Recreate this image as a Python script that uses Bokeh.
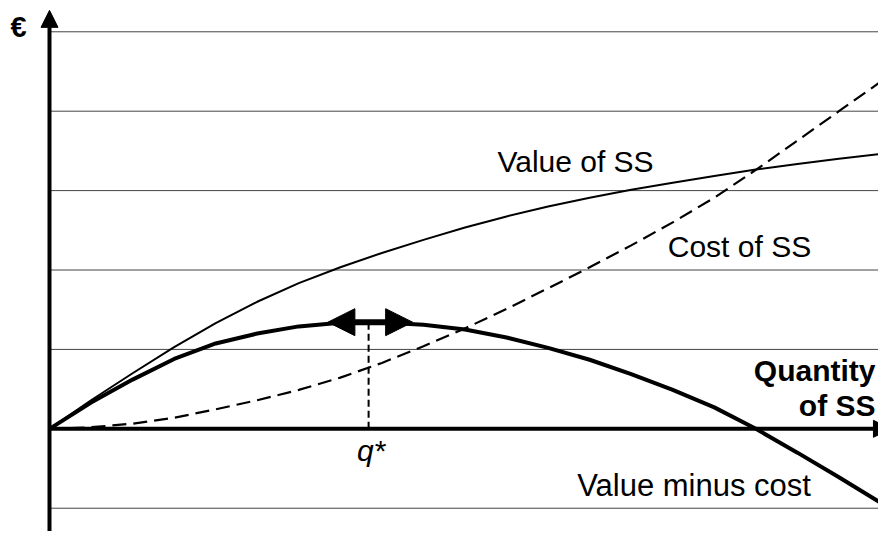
from bokeh.plotting import figure
from bokeh.models import Range1d, Arrow, NormalHead, ColumnDataSource
from bokeh.core.properties import value
from bokeh.embed import file_html
from bokeh.resources import INLINE

# ---- data ----
quantity  = [0, 0.5, 1, 1.5, 2, 2.5, 3, 3.5, 4, 4.5, 5, 5.5, 6, 6.5, 7, 7.5, 8, 8.5, 9, 9.5, 10]
value_ss  = [0, 0.36, 0.70, 1.03, 1.33, 1.60, 1.835, 2.035, 2.215, 2.38, 2.535, 2.675,
             2.80, 2.91, 3.01, 3.10, 3.185, 3.265, 3.335, 3.40, 3.46]
cost_ss   = [0, 0.02, 0.065, 0.14, 0.245, 0.36, 0.49, 0.645, 0.83, 1.04, 1.265, 1.51,
             1.77, 2.035, 2.31, 2.60, 2.91, 3.26, 3.63, 4.00, 4.37]
value_net = [0, 0.33, 0.62, 0.88, 1.075, 1.20, 1.29, 1.335, 1.34, 1.31, 1.25, 1.15,
             1.02, 0.87, 0.69, 0.49, 0.27, 0.0, -0.30, -0.61, -0.93]
grid_levels = [-1, 1, 2, 3, 4, 5]
q_star = 3.84
q_star_level = 1.343
arrow_span = [3.35, 4.37]

label_text = ["Value of SS", "Cost of SS", "Value minus cost"]
label_x    = [5.39, 7.44, 6.35]
label_y    = [3.37, 2.30, -0.71]
label_size = ["30px", "30px", "31px"]

FONT = "Liberation Sans"

p = figure(width=878, height=531, output_backend="svg", toolbar_location=None,
           x_range=Range1d(-0.5897, 9.976), y_range=Range1d(-1.293, 5.394),
           min_border=0, min_border_left=0, min_border_right=0,
           min_border_top=0, min_border_bottom=0)
p.xaxis.visible = False
p.yaxis.visible = False
p.grid.visible = False
p.outline_line_color = None
p.background_fill_color = "white"
p.border_fill_color = "white"

# horizontal guide lines
p.segment(x0=[0] * len(grid_levels), x1=[10] * len(grid_levels),
          y0=grid_levels, y1=grid_levels, line_color="#444444", line_width=1)

# curves
p.line(quantity, value_ss, line_color="black", line_width=2)
p.line(quantity, cost_ss, line_color="black", line_width=2.2, line_dash="14 7")
p.line(quantity, value_net, line_color="black", line_width=4)

# q* dashed drop line
p.segment(x0=[q_star], x1=[q_star], y0=[0], y1=[q_star_level],
          line_color="black", line_width=2, line_dash="7 4")

# axes with arrows
p.add_layout(Arrow(end=NormalHead(size=17, fill_color="black", line_color="black"),
                   x_start=0, y_start=-1.6, x_end=0, y_end=5.27,
                   line_width=4, line_color="black"))
p.add_layout(Arrow(end=NormalHead(size=17, fill_color="black", line_color="black"),
                   x_start=0, y_start=0, x_end=10.12, y_end=0,
                   line_width=4, line_color="black"))

# double-headed arrow at the optimum
p.add_layout(Arrow(start=NormalHead(size=27, fill_color="black", line_color="black"),
                   end=NormalHead(size=27, fill_color="black", line_color="black"),
                   x_start=arrow_span[0], y_start=q_star_level,
                   x_end=arrow_span[1], y_end=q_star_level,
                   line_width=6, line_color="black"))

# labels
src = ColumnDataSource(dict(x=label_x, y=label_y, t=label_text, s=label_size))
p.text(x="x", y="y", text="t", source=src, text_font=value(FONT),
       text_font_size="s", text_align="left", text_baseline="alphabetic",
       text_color="black")

p.text(x=[9.94, 9.94], y=[0.73, 0.30], text=["Quantity", "of SS"],
       text_font=value(FONT), text_font_size="30px", text_font_style="bold",
       text_align="right", text_baseline="alphabetic", text_color="black")

p.text(x=[q_star + 0.03], y=[-0.27], text=["q*"], text_font=value(FONT),
       text_font_size="30px", text_font_style="italic",
       text_align="center", text_baseline="alphabetic", text_color="black")

p.text(x=[-0.373], y=[5.06], text=["€"], text_font=value(FONT),
       text_font_size="29px", text_font_style="bold",
       text_align="center", text_baseline="middle", text_color="black")

open("out.html", "w").write(file_html(p, INLINE))
